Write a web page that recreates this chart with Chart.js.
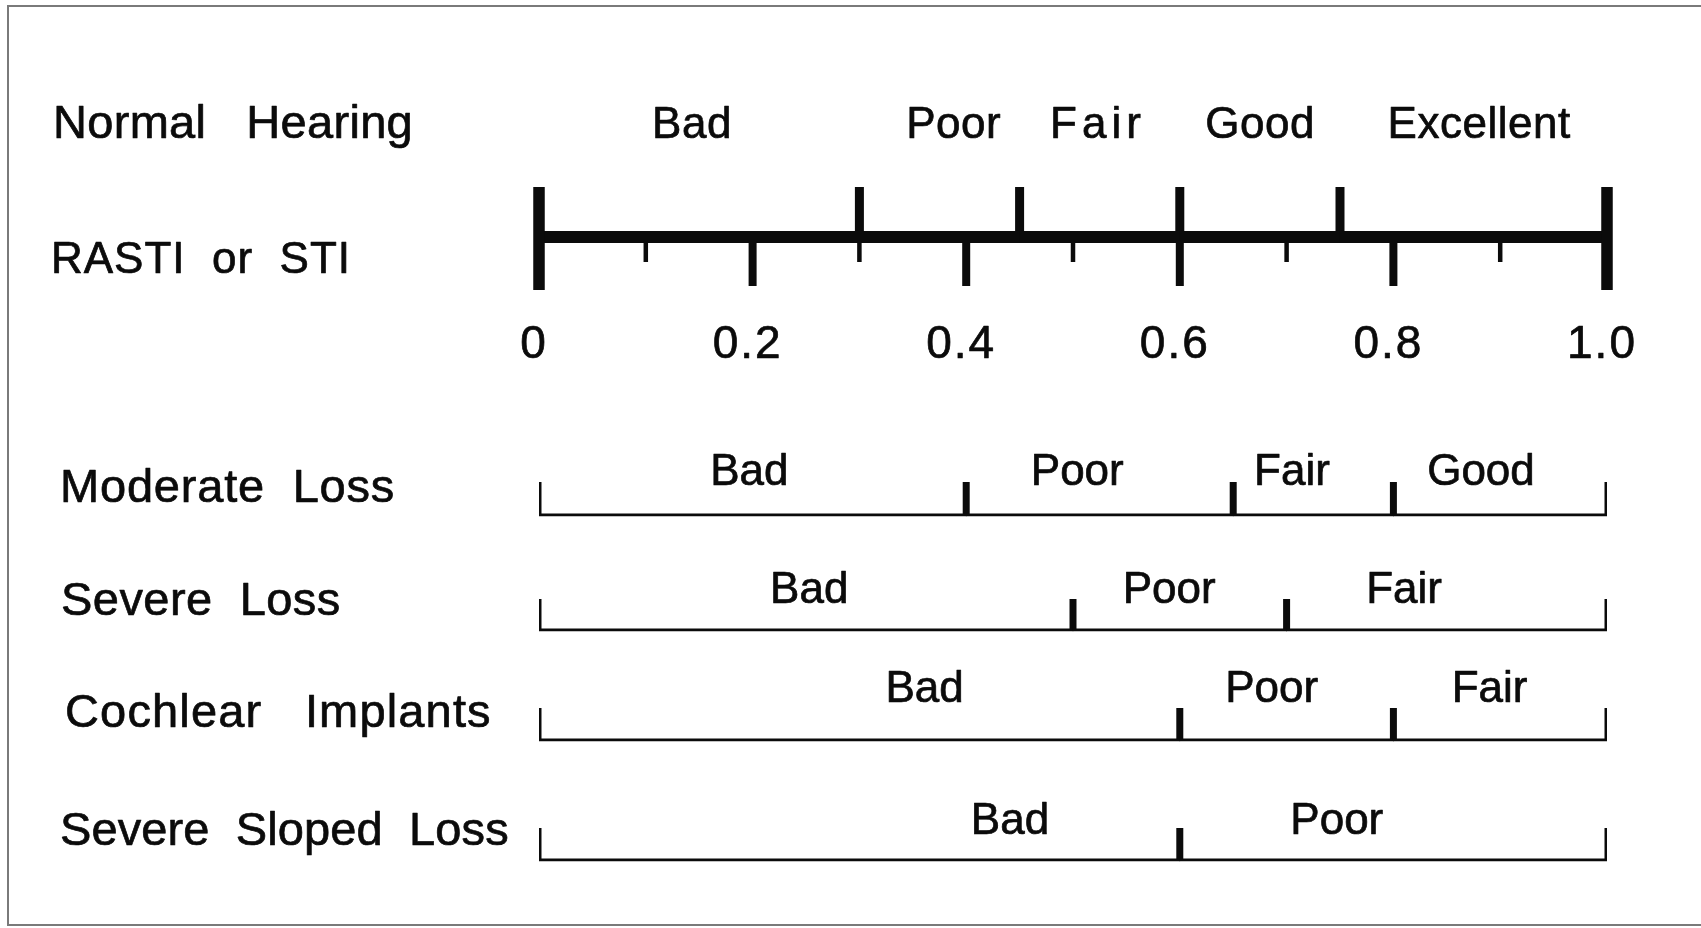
<!DOCTYPE html>
<html>
<head>
<meta charset="utf-8">
<title>RASTI / STI rating scales</title>
<script src="https://cdn.jsdelivr.net/npm/chart.js@4.4.0/dist/chart.umd.min.js"></script>
<style>
  html, body { margin: 0; padding: 0; background: #fff; }
  #wrap { position: relative; width: 1701px; height: 928px; overflow: hidden; }
  #wrap canvas { position: absolute; left: 0; top: 0; }
  #frame { position: absolute; left: 7px; top: 5px; width: 1700px; height: 917px;
           border: 2px solid #7a7a7a; border-right: none; pointer-events: none; }
</style>
</head>
<body>
<div id="wrap">
  <canvas id="chart" width="1701" height="928"></canvas>
  <div id="frame"></div>
</div>
<script>
// --- values (STI units) ---
const stiTicks = [0, 0.2, 0.4, 0.6, 0.8, 1.0];
const stiTickLabels = ['0', '0.2', '0.4', '0.6', '0.8', '1.0'];

const normalName = 'Normal   Hearing';
const axisName = 'RASTI  or  STI';
const normalBounds = [0, 0.3, 0.45, 0.6, 0.75, 1.0];
const normalRatings = ['Bad', 'Poor', 'Fair', 'Good', 'Excellent'];
const normalLabelAt = [0.143, 0.388, 0.521, 0.675, 0.880];

const rowNames = ['Moderate  Loss', 'Severe  Loss', 'Cochlear   Implants', 'Severe  Sloped  Loss'];

const moderateBounds = [0, 0.4, 0.65, 0.8, 1.0];
const moderateRatings = ['Bad', 'Poor', 'Fair', 'Good'];
const moderateLabelAt = [0.197, 0.504, 0.705, 0.882];

const severeBounds = [0, 0.5, 0.7, 1.0];
const severeRatings = ['Bad', 'Poor', 'Fair'];
const severeLabelAt = [0.253, 0.590, 0.810];

const cochlearBounds = [0, 0.6, 0.8, 1.0];
const cochlearRatings = ['Bad', 'Poor', 'Fair'];
const cochlearLabelAt = [0.361, 0.686, 0.890];

const slopedBounds = [0, 0.6, 1.0];
const slopedRatings = ['Bad', 'Poor'];
const slopedLabelAt = [0.441, 0.747];

const rowBounds = [moderateBounds, severeBounds, cochlearBounds, slopedBounds];
const rowRatings = [moderateRatings, severeRatings, cochlearRatings, slopedRatings];
const rowLabelAt = [moderateLabelAt, severeLabelAt, cochlearLabelAt, slopedLabelAt];

// --- layout (vertical positions on the hidden y scale, sizes in px) ---
const INK = '#0b0b0b';
const FONT = "'Liberation Sans', Arimo, Arial, Helvetica, sans-serif";
const TEXT_WEIGHT = 0.7; // thin outline so the type looks like the scanned print

const LAYOUT = {
  normal: { top: 187, line: 237, lineW: 12, tickHalf: 4, endW: 0, nameX: 53, nameY: 138, textY: 138, spacing: 0.3 },
  axis: { nameX: 51, nameY: 273, spacing: 1, endTop: 187, endBottom: 290, endW: 11.5,
          majorEnd: 286, majorW: 8, minorEnd: 262, minorW: 4.5, labelY: 358, labelShift: -6 },
  rows: [
    { top: 482, line: 515, nameX: 60, nameY: 502, textY: 485, spacing: 0.8 },
    { top: 599, line: 630, nameX: 61, nameY: 615, textY: 603, spacing: 0.45 },
    { top: 708, line: 740, nameX: 65, nameY: 727, textY: 702, spacing: 1.15 },
    { top: 828, line: 860, nameX: 60, nameY: 845, textY: 834, spacing: 0.1 }
  ],
  rowLineW: 3, rowTickHalf: 3, rowEndW: 2,
  nameSize: 47, axisNameSize: 44, ratingSize: 44, tickSize: 46
};

// one floating bar per rating band; its borders draw the bracket
const rowDataset = (bounds, top, line, lineW, tickHalf, endW) => {
  const bottom = line + lineW / 2 - 0.5;
  const yMid = (top + bottom) / 2;
  return {
    data: bounds.slice(0, -1).map((b, i) => ({
      x: [b, bounds[i + 1]], y: yMid, first: i === 0, last: i === bounds.length - 2
    })),
    barThickness: bottom - top,
    backgroundColor: 'rgba(0,0,0,0)',
    borderColor: INK,
    borderSkipped: false,
    inflateAmount: 0.5,
    borderWidth: (c) => {
      const r = c.raw || {};
      return { top: 0, bottom: lineW - 1, left: r.first ? endW : tickHalf, right: r.last ? endW : tickHalf };
    }
  };
};

const N = LAYOUT.normal;
const datasets = [rowDataset(normalBounds, N.top, N.line, N.lineW, N.tickHalf, N.endW)];
LAYOUT.rows.forEach((r, i) => {
  datasets.push(rowDataset(rowBounds[i], r.top, r.line, LAYOUT.rowLineW, LAYOUT.rowTickHalf, LAYOUT.rowEndW));
});

const drawText = (ctx, str, x, y, size, align, spacing) => {
  ctx.font = size + 'px ' + FONT;
  if ('letterSpacing' in ctx) ctx.letterSpacing = (spacing || 0) + 'px';
  ctx.textAlign = align;
  ctx.textBaseline = 'alphabetic';
  const tx = x + (align === 'center' ? (spacing || 0) / 2 : 0);
  ctx.fillText(str, tx, y);
  ctx.strokeText(str, tx, y);
};

const figurePlugin = {
  id: 'figurePlugin',
  afterDatasetsDraw(chart) {
    const { ctx, scales: { x, y } } = chart;
    const px = (v) => x.getPixelForValue(v);
    const py = (v) => y.getPixelForValue(v);
    const A = LAYOUT.axis;
    const lineBottom = py(N.line + N.lineW / 2);

    ctx.save();
    ctx.fillStyle = INK;
    ctx.strokeStyle = INK;
    ctx.lineWidth = TEXT_WEIGHT;
    ctx.lineJoin = 'round';

    // downward ticks of the STI axis (major at labelled values, minor in between)
    let values = (x.ticks || []).map(t => t.value);
    if (!values.length) values = stiTicks;
    values.forEach(v => {
      if (v <= stiTicks[0] + 1e-6 || v >= stiTicks[stiTicks.length - 1] - 1e-6) return;
      const major = stiTicks.some(s => Math.abs(s - v) < 1e-6);
      const w = major ? A.majorW : A.minorW;
      const end = py(major ? A.majorEnd : A.minorEnd);
      ctx.fillRect(px(v) - w / 2, lineBottom - 2, w, end - lineBottom + 2);
    });

    // heavy end caps at 0 and 1.0
    [stiTicks[0], stiTicks[stiTicks.length - 1]].forEach(v => {
      ctx.fillRect(px(v) - A.endW / 2, py(A.endTop), A.endW, py(A.endBottom) - py(A.endTop));
    });

    // tick labels
    stiTicks.forEach((v, i) => {
      drawText(ctx, stiTickLabels[i], px(v) + A.labelShift, py(A.labelY), LAYOUT.tickSize, 'center', 2);
    });

    // row names
    drawText(ctx, normalName, N.nameX, py(N.nameY), LAYOUT.nameSize, 'left', N.spacing);
    drawText(ctx, axisName, A.nameX, py(A.nameY), LAYOUT.axisNameSize, 'left', A.spacing);
    LAYOUT.rows.forEach((r, i) => {
      drawText(ctx, rowNames[i], r.nameX, py(r.nameY), LAYOUT.nameSize, 'left', r.spacing);
    });

    // rating words over each band
    normalRatings.forEach((t, i) => {
      drawText(ctx, t, px(normalLabelAt[i]), py(N.textY), LAYOUT.ratingSize, 'center', t === 'Fair' ? 5 : 0.5);
    });
    LAYOUT.rows.forEach((r, k) => {
      rowRatings[k].forEach((t, i) => {
        drawText(ctx, t, px(rowLabelAt[k][i]), py(r.textY), LAYOUT.ratingSize, 'center', 0);
      });
    });

    ctx.restore();
  }
};

Chart.defaults.font.family = FONT;

new Chart(document.getElementById('chart'), {
  type: 'bar',
  data: { datasets },
  options: {
    indexAxis: 'y',
    responsive: false,
    animation: false,
    events: [],
    layout: { padding: { left: 539, right: 94, top: 0, bottom: 0 } },
    scales: {
      x: { type: 'linear', min: 0, max: 1, display: false, offset: false, ticks: { stepSize: 0.1 } },
      y: { type: 'linear', min: 0, max: 928, reverse: true, display: false, offset: false, stacked: true }
    },
    plugins: { legend: { display: false }, tooltip: { enabled: false } }
  },
  plugins: [figurePlugin]
});
</script>
</body>
</html>
